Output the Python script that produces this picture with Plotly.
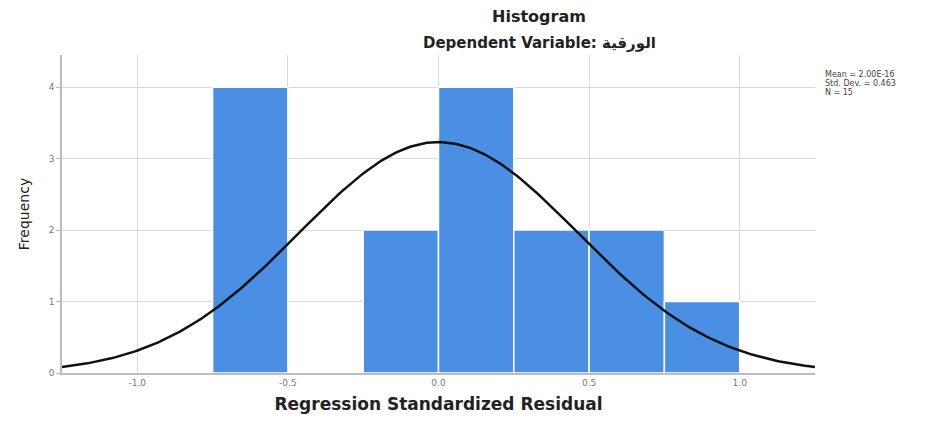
import numpy as np
import plotly.graph_objects as go

# Histogram bins (left edges) and frequencies of the standardized residuals
bin_starts = [-0.75, -0.25, 0.0, 0.25, 0.5, 0.75]
frequencies = [4, 2, 4, 2, 2, 1]
bin_width = 0.25

# Summary statistics shown beside the plot
mean_val = 2.00e-16
std_dev = 0.463
n_obs = 15

x_ticks = [-1.0, -0.5, 0.0, 0.5, 1.0]
x_tick_text = ["-1.0", "-0.5", "0.0", "0.5", "1.0"]
y_ticks = [0, 1, 2, 3, 4]

bar_centers = [s + bin_width / 2 for s in bin_starts]

# Fitted normal curve scaled to histogram counts
xs = np.linspace(-1.25, 1.25, 300)
ys = n_obs * bin_width / (std_dev * np.sqrt(2 * np.pi)) * np.exp(-0.5 * ((xs - mean_val) / std_dev) ** 2)

W, H = 936, 423
ML, MR, MT, MB = 62, 121, 55, 48
plot_w = W - ML - MR
plot_h = H - MT - MB


def px_x(x):
    return (x - ML) / plot_w


def px_y(y):
    return 1 - (y - MT) / plot_h


BOLD = "DejaVu Sans Bold, DejaVu Sans, sans-serif"
REG = "DejaVu Sans, sans-serif"

fig = go.Figure()
fig.add_trace(go.Bar(
    x=bar_centers, y=frequencies, width=bin_width,
    marker=dict(color="#4a8fe3", line=dict(color="white", width=1.5)),
    hoverinfo="skip",
))
fig.add_trace(go.Scatter(
    x=xs, y=ys, mode="lines",
    line=dict(color="#111111", width=2.5),
    hoverinfo="skip",
))

stats_lines = [
    f"Mean = {mean_val:.2E}",
    f"Std. Dev. = {std_dev}",
    f"N = {n_obs}",
]
stats_ann = [
    dict(text=t, x=px_x(823), xref="paper", xanchor="left",
         y=px_y(75 + 9 * i), yref="paper", yanchor="middle",
         showarrow=False, font=dict(family=REG, size=8, color="#444444"))
    for i, t in enumerate(stats_lines)
]

fig.update_layout(
    width=W, height=H,
    margin=dict(l=ML, r=MR, t=MT, b=MB),
    paper_bgcolor="white", plot_bgcolor="white",
    showlegend=False,
    font=dict(family=REG, color="#333333"),
    xaxis=dict(
        range=[-1.25, 1.25], tickvals=x_ticks, ticktext=x_tick_text,
        showgrid=True, gridcolor="#d9d9d9", gridwidth=1,
        showline=True, linecolor="#bdbdbd", linewidth=1.5,
        ticks="", tickfont=dict(family=REG, size=9, color="#777777"),
        zeroline=False,
        title=dict(text="<b>Regression Standardized Residual</b>",
                   font=dict(family=BOLD, size=17, color="#222222"), standoff=12),
    ),
    yaxis=dict(
        range=[0, 4.45], tickvals=y_ticks,
        showgrid=True, gridcolor="#d9d9d9", gridwidth=1,
        showline=True, linecolor="#bdbdbd", linewidth=1.5,
        ticks="outside", ticklen=4, tickcolor="#bdbdbd",
        tickfont=dict(family=REG, size=9, color="#777777"),
        zeroline=False,
        title=dict(text="Frequency", font=dict(family=REG, size=14, color="#222222"), standoff=16),
    ),
    annotations=[
        dict(text="<b>Histogram</b>", x=px_x(539), xref="paper",
             y=px_y(16), yref="paper", yanchor="middle",
             showarrow=False, font=dict(family=BOLD, size=16, color="#222222")),
        dict(text="<b>Dependent Variable: الورقية</b>", x=px_x(539), xref="paper",
             y=px_y(43), yref="paper", yanchor="middle",
             showarrow=False, font=dict(family=BOLD, size=15, color="#222222")),
    ] + stats_ann,
)

fig.write_html("out.html")
